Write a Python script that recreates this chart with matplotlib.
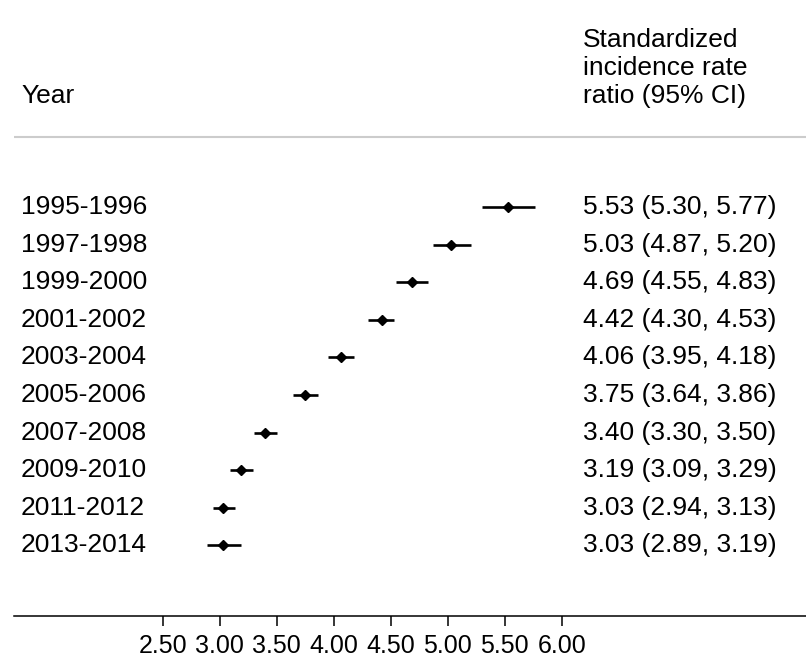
import matplotlib.pyplot as plt

plt.rcParams['font.family'] = ['Liberation Sans', 'DejaVu Sans']

years = ['1995-1996', '1997-1998', '1999-2000', '2001-2002', '2003-2004',
         '2005-2006', '2007-2008', '2009-2010', '2011-2012', '2013-2014']
ratio = [5.53, 5.03, 4.69, 4.42, 4.06, 3.75, 3.40, 3.19, 3.03, 3.03]
lower = [5.30, 4.87, 4.55, 4.30, 3.95, 3.64, 3.30, 3.09, 2.94, 2.89]
upper = [5.77, 5.20, 4.83, 4.53, 4.18, 3.86, 3.50, 3.29, 3.13, 3.19]
ticks = [2.50, 3.00, 3.50, 4.00, 4.50, 5.00, 5.50, 6.00]

W, H = 806, 657
fig = plt.figure(figsize=(W / 100, H / 100), dpi=100)
# axes spans x 14..806 px, y 0..616 px (from top)
ax = fig.add_axes([14 / W, (H - 616) / H, 1 - 14 / W, 616 / H])

# x scale: 114 px per unit, 2.50 sits at 162.7 px
px_per_unit = 114
x0 = 2.5 - (162.7 - 14) / px_per_unit
x1 = x0 + (W - 14) / px_per_unit
ax.set_xlim(x0, x1)
ax.set_ylim(616, 0)

row_y = [207 + 37.6 * i for i in range(len(years))]

for i in range(len(years)):
    ax.plot([lower[i], upper[i]], [row_y[i], row_y[i]], color='black', lw=1.9,
            solid_capstyle='butt')
    ax.plot(ratio[i], row_y[i], marker='D', color='black', ms=5.2)

trans = ax.get_yaxis_transform()
tx_left = (21 - 14) / (W - 14)
tx_right = (583 - 14) / (W - 14)
fs = 19
for i in range(len(years)):
    ax.text(tx_left, row_y[i], years[i], transform=trans, fontsize=fs,
            va='center', ha='left')
    ax.text(tx_right, row_y[i],
            '%.2f (%.2f, %.2f)' % (ratio[i], lower[i], upper[i]),
            transform=trans, fontsize=fs, va='center', ha='left')

# header
ax.text(tx_left, 96, 'Year', transform=trans, fontsize=fs, va='center', ha='left')
ax.text(tx_right, 40, 'Standardized', transform=trans, fontsize=fs, va='center', ha='left')
ax.text(tx_right, 68, 'incidence rate', transform=trans, fontsize=fs, va='center', ha='left')
ax.text(tx_right, 96, 'ratio (95% CI)', transform=trans, fontsize=fs, va='center', ha='left')
ax.axhline(137, color='#cccccc', lw=1.5)

for s in ['top', 'left', 'right']:
    ax.spines[s].set_visible(False)
ax.spines['bottom'].set_linewidth(1.1)
ax.set_yticks([])
ax.set_xticks(ticks)
ax.set_xticklabels(['%.2f' % t for t in ticks])
ax.tick_params(axis='x', length=7, width=1.1, pad=6, labelsize=18)

fig.savefig('out.png', dpi=100)
